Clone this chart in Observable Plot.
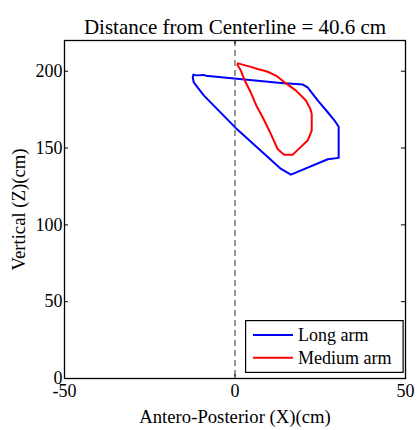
<!DOCTYPE html>
<html>
<head>
<meta charset="utf-8">
<script src="https://cdn.jsdelivr.net/npm/d3@7"></script>
<script src="https://cdn.jsdelivr.net/npm/@observablehq/plot@0.6"></script>
<style>
  html, body { margin: 0; padding: 0; background: #fff; }
  #wrap { position: relative; width: 417px; height: 430px; font-family: "Liberation Serif", "Times New Roman", serif; }
  #wrap svg, #wrap svg text { font-family: "Liberation Serif", "Times New Roman", serif !important; }
  #legend { position: absolute; left: 245px; top: 320px; }
</style>
</head>
<body>
<div id="wrap"></div>
<script>
const titleText = "Distance from Centerline = 40.6 cm";
const xLabel = "Antero-Posterior (X)(cm)";
const yLabel = "Vertical (Z)(cm)";
const xTicks = [-50, 0, 50];
const yTicks = [0, 50, 100, 150, 200];
const seriesNames = ["Long arm", "Medium arm"];
const seriesColors = ["#0000ff", "#ff0000"];

// Long arm path (X, Z)
const longX = [-12.2, -11.3, -9.1, -8.6, 13.5, 19.9, 21.3, 24.3, 27.2, 29.2, 30.4, 30.4, 27.2, 16.4, 13.5, 0.2, -9.1, -12.1, -12.4, -12.2];
const longZ = [197.8, 197.3, 197.6, 197.1, 192.4, 191.3, 189.5, 180.9, 173.3, 167.9, 163.9, 143.6, 142.7, 132.7, 136.4, 163.1, 184.1, 192.8, 196.0, 197.8];

// Medium arm path (X, Z)
const medX = [0.9, 2.2, 4.4, 6.6, 8.6, 10.0, 12.4, 14.5, 16.2, 17.9, 20.8, 22.1, 22.5, 22.5, 21.3, 18.4, 16.9, 14.4, 12.5, 10.5, 8.6, 6.4, 4.6, 2.9, 1.7, 0.7, 0.9];
const medZ = [205.1, 204.3, 203.0, 201.5, 200.3, 199.3, 196.6, 192.8, 190.1, 187.4, 180.9, 175.5, 172.2, 161.4, 154.9, 148.8, 145.7, 145.7, 149.4, 159.2, 167.9, 177.0, 186.3, 193.8, 200.4, 204.3, 205.1];

const longData = longX.map((x, i) => ({x, z: longZ[i]}));
const medData = medX.map((x, i) => ({x, z: medZ[i]}));

const xDomain = [-50, 50];
const yDomain = [0, 220];
const serif = "'Liberation Serif', 'Times New Roman', serif";

const plot = Plot.plot({
  width: 417,
  height: 430,
  marginLeft: 64,
  marginRight: 12,
  marginTop: 40,
  marginBottom: 52,
  style: {fontFamily: serif, fontSize: "18px", color: "#000", background: "#fff"},
  x: {domain: xDomain},
  y: {domain: yDomain},
  marks: [
    Plot.ruleX([0], {stroke: "#555", strokeWidth: 1.2, strokeDasharray: "6,4"}),
    Plot.line(longData, {x: "x", y: "z", stroke: seriesColors[0], strokeWidth: 2, curve: "linear"}),
    Plot.line(medData, {x: "x", y: "z", stroke: seriesColors[1], strokeWidth: 2, curve: "linear"}),
    Plot.frame({stroke: "#000", strokeWidth: 1.3}),
    // inward ticks
    Plot.ruleY(yTicks, {x1: xDomain[0], x2: xDomain[0] + 1.2, stroke: "#000"}),
    Plot.ruleY(yTicks, {x1: xDomain[1] - 1.2, x2: xDomain[1], stroke: "#000"}),
    Plot.ruleX(xTicks, {y1: yDomain[0], y2: yDomain[0] + 2.6, stroke: "#000"}),
    Plot.ruleX(xTicks, {y1: yDomain[1] - 2.6, y2: yDomain[1], stroke: "#000"}),
    Plot.axisX(xTicks, {tickSize: 0, tickPadding: 6, fontSize: 18, label: null, tickFormat: d => String(d)}),
    Plot.axisX({tickSize: 0, ticks: [], label: xLabel, labelAnchor: "center", labelArrow: "none", labelOffset: 44, fontSize: 18.7}),
    Plot.axisY(yTicks, {tickSize: 0, tickPadding: 2, fontSize: 18, label: null, tickFormat: d => String(d)}),
    Plot.axisY({tickSize: 0, ticks: [], label: yLabel, labelAnchor: "center", labelArrow: "none", labelOffset: 53, fontSize: 18.7}),
    Plot.text([titleText], {frameAnchor: "top", dy: -21, fontSize: 21, text: d => d})
  ]
});

const wrap = document.getElementById("wrap");
wrap.appendChild(plot);

// Legend overlay
const lg = d3.select(wrap).append("svg").attr("id", "legend")
  .attr("width", 159).attr("height", 53);
lg.append("rect").attr("x", 0.6).attr("y", 0.6).attr("width", 157.5).attr("height", 51.8)
  .attr("fill", "#fff").attr("stroke", "#000").attr("stroke-width", 1.2);
seriesNames.forEach((name, i) => {
  const cy = 15 + i * 22.7;
  lg.append("line").attr("x1", 8).attr("x2", 48).attr("y1", cy).attr("y2", cy)
    .attr("stroke", seriesColors[i]).attr("stroke-width", 2);
  lg.append("text").attr("x", 53).attr("y", cy).attr("dy", "0.35em")
    .attr("font-size", 18).attr("fill", "#000").text(name);
});
</script>
</body>
</html>
